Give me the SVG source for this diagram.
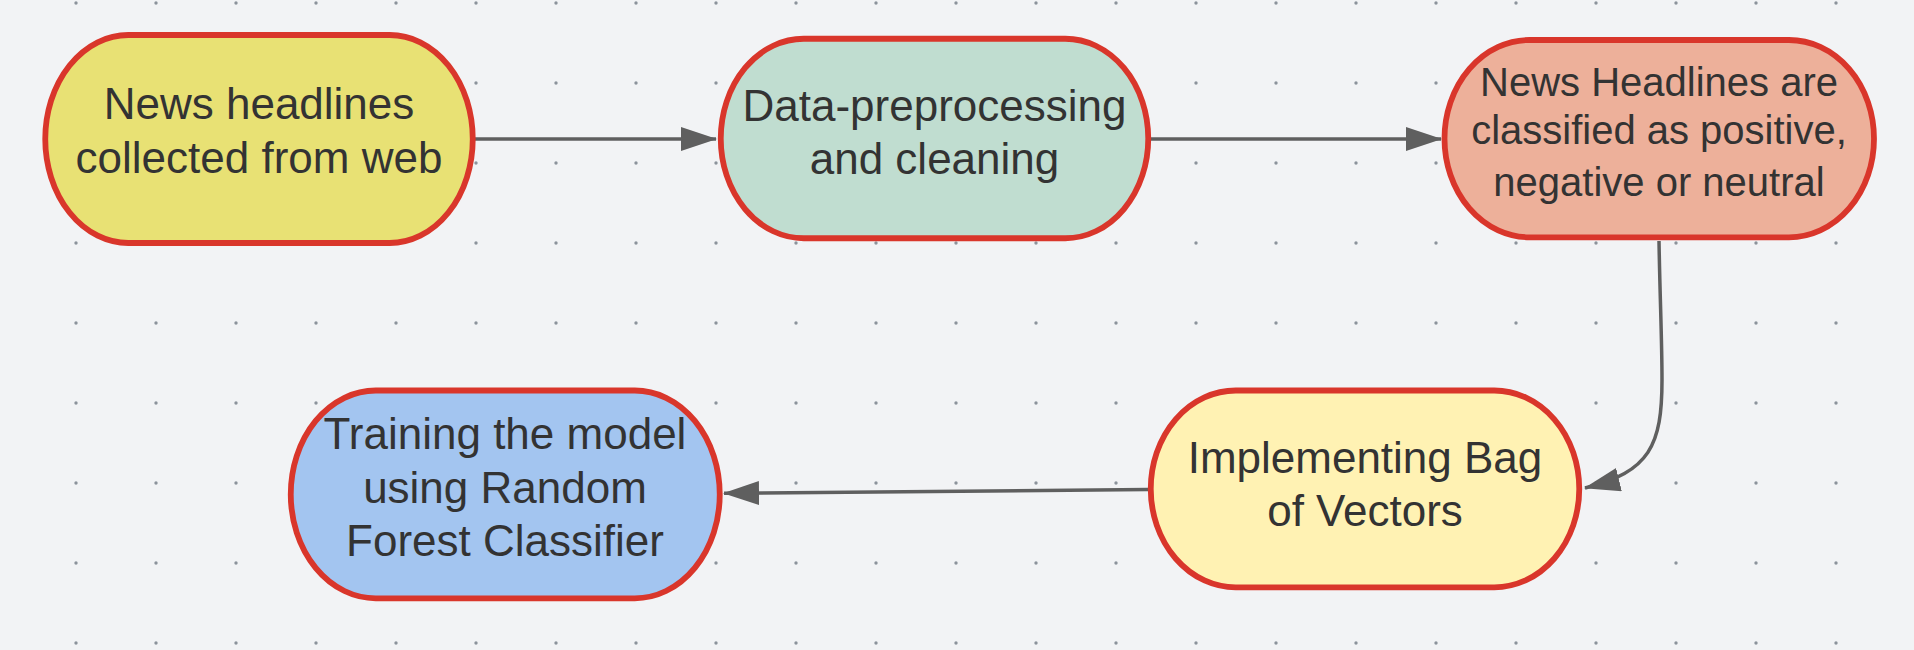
<svg xmlns="http://www.w3.org/2000/svg" width="1914" height="650" viewBox="0 0 1914 650">
<defs>
<pattern id="dots" x="36" y="-37" width="80" height="80" patternUnits="userSpaceOnUse">
<circle cx="40" cy="40" r="1.7" fill="#8c939b"/>
</pattern>
<marker id="arrow" markerUnits="userSpaceOnUse" markerWidth="36" markerHeight="24" refX="35" refY="12" orient="auto">
<path d="M0,0 L36,12 L0,24 Z" fill="#5f5f5f"/>
</marker>
</defs>
<style>
.node{stroke:#d9362b;stroke-width:5.8}
.lbl{font-family:"Liberation Sans",Arial,sans-serif;font-size:44px;fill:#333333;text-anchor:middle}
.edge{fill:none;stroke:#5f5f5f;stroke-width:3.5;marker-end:url(#arrow)}
</style>
<rect width="1914" height="650" fill="#f2f3f5"/>
<rect width="1914" height="650" fill="url(#dots)"/>
<g id="connectors">
<path class="edge" d="M475,139 L716,139"/>
<path class="edge" d="M1151,139 L1441,139"/>
<path class="edge" d="M1659,241 C1660,300 1662,340 1662,380 C1662,445 1650,472 1585,488"/>
<path class="edge" d="M1148,489.5 L724,493.3"/>
</g>
<g id="node1">
<rect class="node" x="45.25" y="35" width="427.5" height="208" rx="83" ry="104" fill="#e8e174"/>
<text class="lbl" x="259" y="119">News headlines</text>
<text class="lbl" x="259" y="173">collected from web</text>
</g>
<g id="node2">
<rect class="node" x="720.75" y="38.75" width="427.5" height="199.5" rx="83" ry="99.75" fill="#c0ddd0"/>
<text class="lbl" x="934.5" y="120.7">Data-preprocessing</text>
<text class="lbl" x="934.5" y="174">and cleaning</text>
</g>
<g id="node3">
<rect class="node" x="1444.5" y="40" width="429.5" height="197.3" rx="85" ry="98.65" fill="#edb09a"/>
<text class="lbl" style="font-size:40px" x="1659" y="96">News Headlines are</text>
<text class="lbl" style="font-size:40px" x="1659" y="144">classified as positive,</text>
<text class="lbl" style="font-size:40px" x="1659" y="196">negative or neutral</text>
</g>
<g id="node4">
<rect class="node" x="1150.75" y="390.5" width="428.5" height="196.8" rx="85" ry="98.4" fill="#fff2b3"/>
<text class="lbl" x="1365" y="473">Implementing Bag</text>
<text class="lbl" x="1365" y="526">of Vectors</text>
</g>
<g id="node5">
<rect class="node" x="290.75" y="390.5" width="429" height="207.8" rx="85" ry="103.9" fill="#a3c5f0"/>
<text class="lbl" x="505" y="449">Training the model</text>
<text class="lbl" x="505" y="502.7">using Random</text>
<text class="lbl" x="505" y="555.7">Forest Classifier</text>
</g>
</svg>
